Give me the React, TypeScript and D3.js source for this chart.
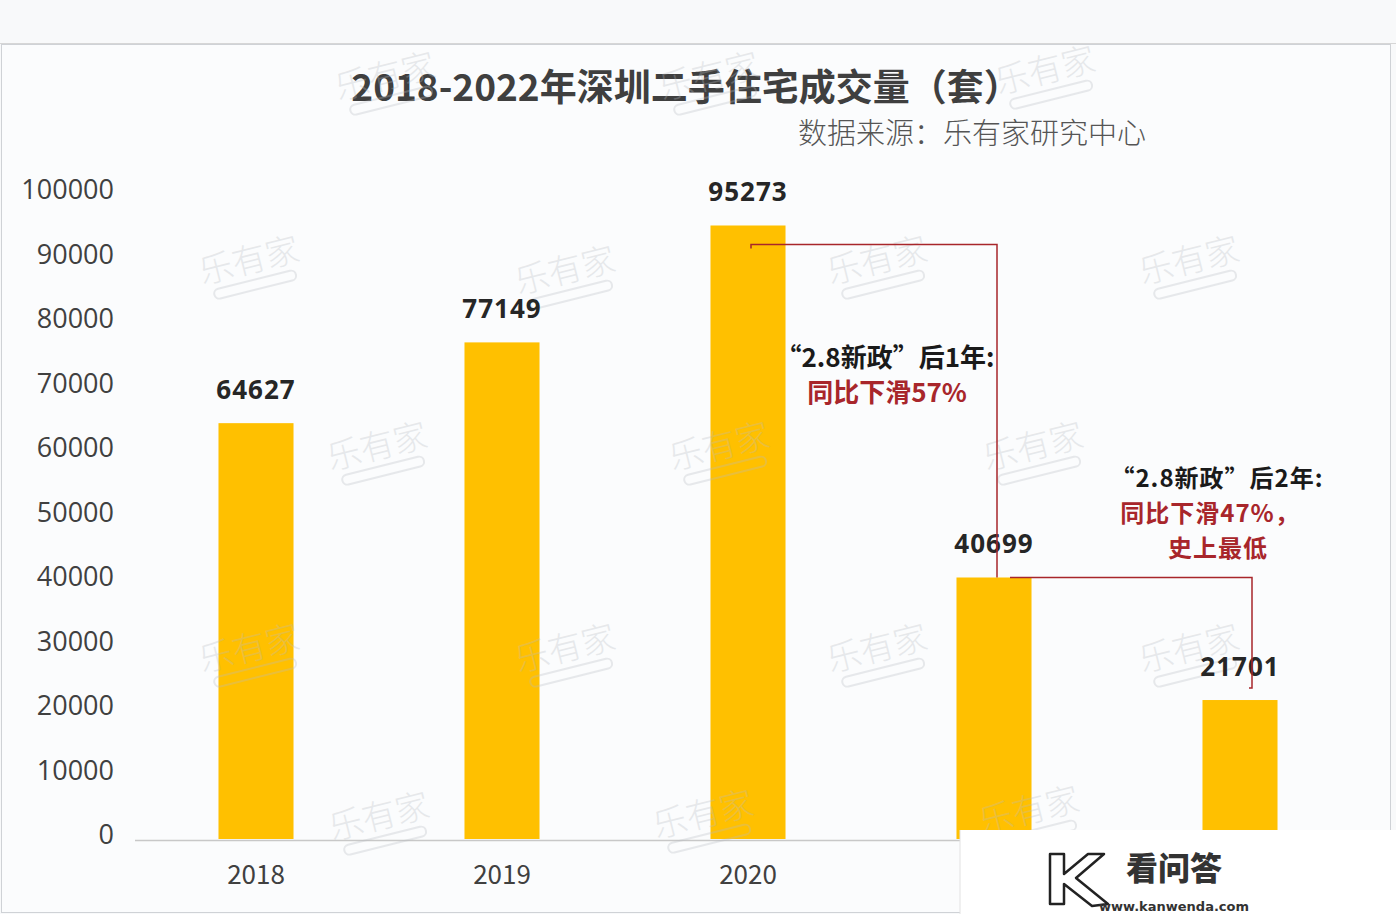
import React from "react";
import * as d3 from "d3";

const years = ["2018", "2019", "2020", "2021", "2022"];
const volumes = [64627, 77149, 95273, 40699, 21701];
const yTicks = [0, 10000, 20000, 30000, 40000, 50000, 60000, 70000, 80000, 90000, 100000];
const titleText = "2018-2022年深圳二手住宅成交量（套）";
const sourceText = "数据来源：乐有家研究中心";
const note1 = ["“2.8新政”后1年:", "同比下滑57%"];
const note2 = ["“2.8新政”后2年:", "同比下滑47%，", "史上最低"];
const watermarks: [number, number][] = [
  [388, 88], [712, 88], [1048, 82],
  [252, 272], [568, 282], [880, 272], [1192, 272],
  [380, 458], [722, 458], [1036, 458],
  [252, 660], [568, 660], [880, 660], [1192, 660],
  [382, 828], [706, 826], [1032, 822],
];

const W = 1396;
const H = 914;
const FONT = "'Noto Sans CJK SC', 'Noto Sans', sans-serif";
const BAR = "#FFC000";
const RED = "#A8262B";

export default function App() {
  const x = d3
    .scaleBand<string>()
    .domain(years)
    .range([133, 1363])
    .paddingInner(0.695)
    .paddingOuter(0.3475);
  const y = d3.scaleLinear().domain([0, 100000]).range([840, 195]);

  const cx = (i: number) => (x(years[i]) as number) + x.bandwidth() / 2;

  const a1x0 = cx(2) + 3;
  const a1x1 = cx(3) + 3;
  const a1y = y(volumes[2]) + 19;
  const a2y = y(volumes[3]);
  const a2x0 = cx(3) + 16;
  const a2x1 = cx(4) + 12;
  const a2yEnd = y(volumes[4]) - 12;

  return (
    <svg
      width={W}
      height={H}
      style={{ position: "absolute", left: 0, top: 0, background: "#f9fafb" }}
      fontFamily={FONT}
    >
      <rect x={0} y={0} width={W} height={H} fill="#f8f9fa" />
      <line x1={0} x2={W} y1={43.5} y2={43.5} stroke="#d6d6d6" />
      <rect x={1.5} y={44.5} width={1389} height={868} fill="#fbfcfd" stroke="#cfd2d6" />

      {/* title */}
      <text x={686} y={101} textAnchor="middle" fontSize={37} fontWeight={700} fill="#3f3f3f">
        {titleText}
      </text>
      <text x={972} y={144} textAnchor="middle" fontSize={29} fontWeight={300} fill="#555">
        {sourceText}
      </text>

      {/* y axis labels */}
      {yTicks.map((t) => (
        <text
          key={t}
          x={114}
          y={y(t) - 3}
          textAnchor="end"
          dominantBaseline="middle"
          fontSize={27}
          fill="#404040"
          fontFamily="'Open Sans', sans-serif"
        >
          {t}
        </text>
      ))}

      {/* axis line */}
      <line x1={135} x2={1390} y1={840.5} y2={840.5} stroke="#c8c8c8" strokeWidth={1.5} />

      {/* bars */}
      {volumes.map((v, i) => (
        <rect key={years[i]} x={x(years[i])} y={y(v)} width={x.bandwidth()} height={y(0) - y(v) - 1} fill={BAR} />
      ))}

      {/* watermarks (on top, faint) */}
      {watermarks.map(([wx, wy], i) => (
        <g key={i} transform={`translate(${wx},${wy}) rotate(-14)`} opacity={0.3}>
          <text textAnchor="middle" fontSize={34} fontWeight={300} fill="#b8bcc2" y={0}>
            乐有家
          </text>
          <rect x={-42} y={8} width={84} height={10} rx={5} fill="none" stroke="#b8bcc2" strokeWidth={2} />
        </g>
      ))}

      {/* value labels */}
      {volumes.map((v, i) => (
        <text
          key={"v" + i}
          x={cx(i)}
          y={y(v) - 24}
          textAnchor="middle"
          fontSize={26}
          fontWeight={700}
          fill="#262626"
          fontFamily="'Open Sans', sans-serif"
          letterSpacing={1}
        >
          {v}
        </text>
      ))}

      {/* x labels */}
      {years.map((yr, i) => (
        <text key={"x" + yr} x={cx(i)} y={884} textAnchor="middle" fontSize={26} fill="#404040">
          {yr}
        </text>
      ))}

      {/* annotation lines */}
      <path d={`M${a1x0},${a1y + 4}V${a1y}H${a1x1}V${a2y}`} fill="none" stroke={RED} strokeWidth={1.5} />
      <path d={`M${a2x0},${a2y}H${a2x1}V${a2yEnd}h-3`} fill="none" stroke={RED} strokeWidth={1.5} />

      {/* annotation texts */}
      <text x={885} y={367} textAnchor="middle" fontSize={26} fontWeight={700} fill="#1a1a1a">
        {note1[0]}
      </text>
      <text x={887} y={402} textAnchor="middle" fontSize={26} fontWeight={700} fill={RED}>
        {note1[1]}
      </text>
      <text x={1217} y={487} textAnchor="middle" fontSize={24} fontWeight={700} fill="#1a1a1a" letterSpacing={1}>
        {note2[0]}
      </text>
      <text x={1210} y={522} textAnchor="middle" fontSize={24} fontWeight={700} fill={RED} letterSpacing={1}>
        {note2[1]}
      </text>
      <text x={1218} y={557} textAnchor="middle" fontSize={24} fontWeight={700} fill={RED} letterSpacing={1}>
        {note2[2]}
      </text>

      {/* bottom-right overlay logo */}
      <rect x={960} y={830} width={436} height={84} fill="#ffffff" />
      <line x1={960} x2={960} y1={830} y2={914} stroke="#e2e2e2" />
      <g transform="translate(1048,850)" fill="none" stroke="#222" strokeWidth={2.5} strokeLinejoin="round">
        <path d="M2,4 L16,4 L16,24 L40,4 L56,4 L28,28 L60,54 L44,56 L16,34 L16,54 L2,54 Z" />
      </g>
      <text x={1174} y={880} textAnchor="middle" fontSize={32} fontWeight={900} fill="#333">
        看问答
      </text>
      <text x={1174} y={911} textAnchor="middle" fontSize={13} fontWeight={700} fill="#333" fontFamily="'DejaVu Sans', sans-serif">
        www.kanwenda.com
      </text>
    </svg>
  );
}
